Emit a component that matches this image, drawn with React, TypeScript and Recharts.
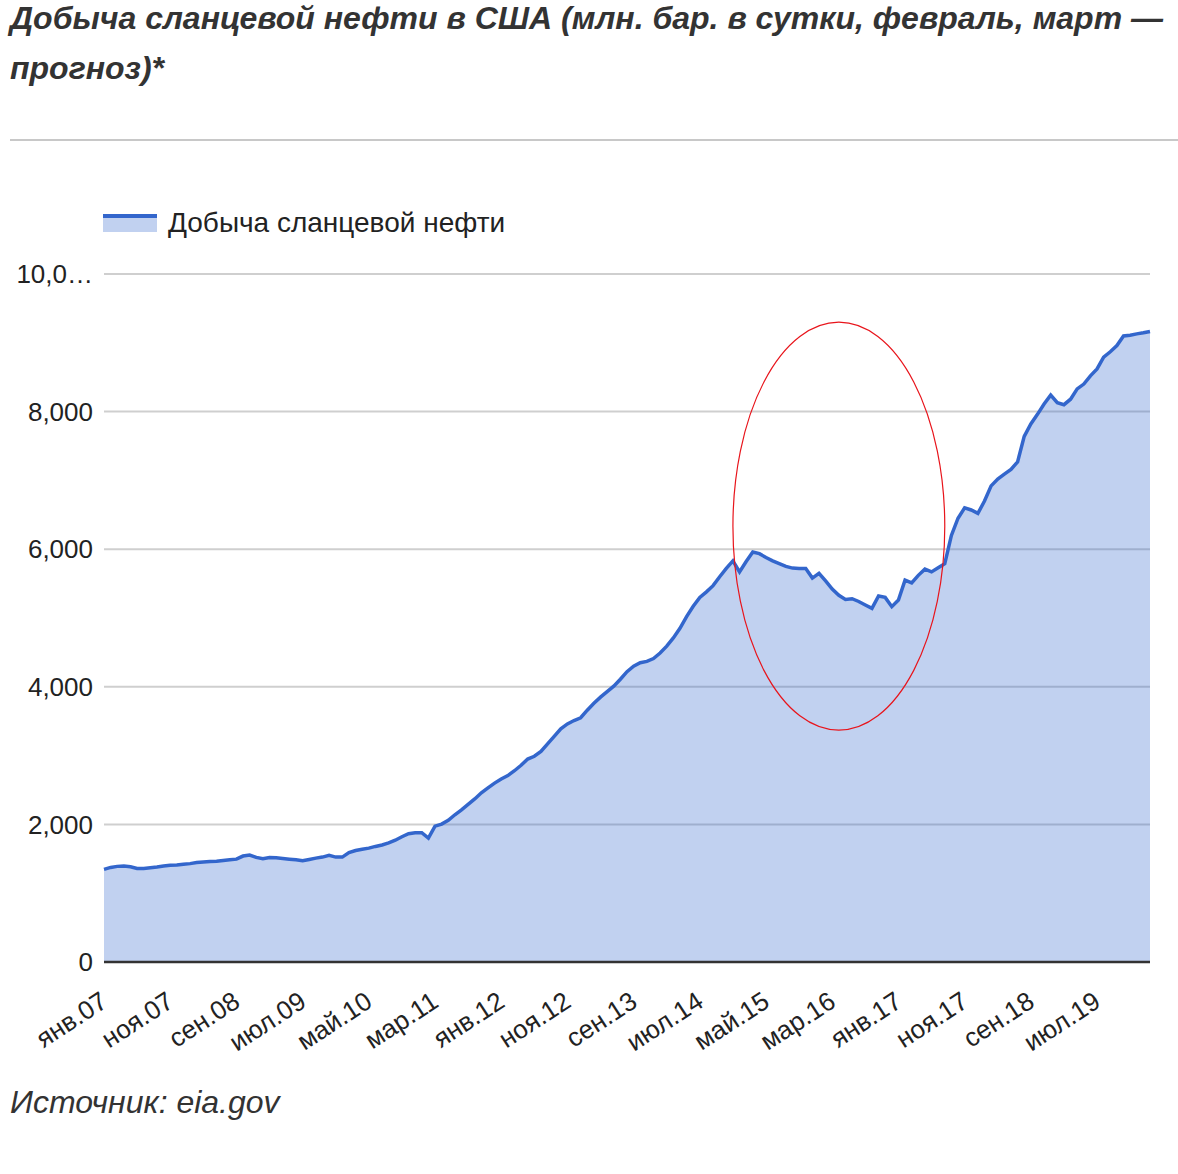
import { Area, AreaChart, CartesianGrid, ReferenceArea, XAxis, YAxis } from 'recharts';

const monthNames = ['янв', 'фев', 'мар', 'апр', 'май', 'июн', 'июл', 'авг', 'сен', 'окт', 'ноя', 'дек'];
const startYear = 2007;

// тыс. баррелей в сутки, янв.07 — мар.20 (фев, мар 2020 — прогноз)
const shaleOutput = [
  1347, 1375, 1390, 1395, 1385, 1360, 1360, 1370, 1380, 1395, 1405, 1410, // 2007
  1420, 1430, 1445, 1455, 1460, 1465, 1475, 1485, 1495, 1540, 1555, 1520, // 2008
  1500, 1520, 1515, 1505, 1495, 1485, 1472, 1490, 1510, 1525, 1550, 1525, // 2009
  1525, 1590, 1620, 1640, 1655, 1680, 1700, 1730, 1770, 1820, 1865, 1878, // 2010
  1880, 1800, 1975, 2005, 2060, 2140, 2210, 2290, 2370, 2460, 2530, 2600, // 2011
  2660, 2710, 2780, 2860, 2950, 2990, 3060, 3170, 3280, 3390, 3460, 3510, // 2012
  3550, 3660, 3760, 3850, 3930, 4010, 4110, 4220, 4300, 4350, 4370, 4410, // 2013
  4490, 4590, 4710, 4850, 5020, 5170, 5300, 5380, 5470, 5600, 5720, 5830, // 2014
  5670, 5820, 5960, 5935, 5880, 5830, 5790, 5750, 5725, 5720, 5720, 5580, // 2015
  5650, 5540, 5420, 5330, 5270, 5280, 5240, 5190, 5140, 5320, 5300, 5165, // 2016
  5260, 5550, 5510, 5620, 5710, 5670, 5730, 5790, 6200, 6450, 6600, 6570, // 2017
  6520, 6700, 6920, 7020, 7090, 7160, 7270, 7640, 7820, 7960, 8110, 8240, // 2018
  8130, 8100, 8180, 8330, 8400, 8520, 8620, 8790, 8870, 8960, 9100, 9110, // 2019
  9130, 9145, 9165, // 2020
];

const yTicks = [0, 2000, 4000, 6000, 8000, 10000];

// красный овал: спад 2015–2017
const highlightMonths = ['дек.14', 'авг.17'];
const highlightValues = [3370, 9300];

const monthLabel = (i: number) =>
  `${monthNames[i % 12]}.${String((startYear + Math.floor(i / 12)) % 100).padStart(2, '0')}`;

const data = shaleOutput.map((value, i) => ({ month: monthLabel(i), value }));

const FONT = 'Arial, "Liberation Sans", sans-serif';
const BLUE = '#3366cc';

function AngledTick({ x, y, payload }: any) {
  return (
    <g transform={`translate(${x - 5},${y})`}>
      <text textAnchor="end" transform="rotate(-33)" dy="0.72em" fill="#222" fontSize={26} fontFamily={FONT}>
        {payload.value}
      </text>
    </g>
  );
}

function Ellipse({ x, y, width, height }: any) {
  return (
    <ellipse
      cx={x + width / 2}
      cy={y + height / 2}
      rx={width / 2}
      ry={height / 2}
      fill="none"
      stroke="#e8141b"
      strokeWidth={1.2}
    />
  );
}

export default function App() {
  return (
    <div style={{ position: 'relative', width: 1178, height: 1174, fontFamily: FONT, background: '#fff' }}>
      <style>{'body{margin:0}'}</style>
      <div
        style={{
          position: 'absolute',
          top: -7,
          left: 10,
          fontSize: 32,
          lineHeight: '50px',
          fontWeight: 'bold',
          fontStyle: 'italic',
          color: '#333',
          whiteSpace: 'nowrap',
        }}
      >
        <div>Добыча сланцевой нефти в США (млн. бар. в сутки, февраль, март —</div>
        <div>прогноз)*</div>
      </div>
      <div style={{ position: 'absolute', top: 139, left: 10, right: 0, height: 2, background: '#c8c8c8' }} />

      <div style={{ position: 'absolute', top: 207, left: 103, display: 'flex', alignItems: 'center' }}>
        <div style={{ width: 54, height: 18, marginRight: 11 }}>
          <div style={{ height: 4, background: BLUE }} />
          <div style={{ height: 14, background: BLUE, opacity: 0.3 }} />
        </div>
        <span style={{ fontSize: 28, color: '#222' }}>Добыча сланцевой нефти</span>
      </div>

      <div style={{ position: 'absolute', top: 0, left: 0 }}>
        <AreaChart width={1178} height={1174} data={data} margin={{ top: 274, right: 28, bottom: 152, left: 4 }}>
          <CartesianGrid vertical={false} stroke="#cfcfcf" strokeWidth={2} />
          <XAxis
            dataKey="month"
            interval={9}
            tick={<AngledTick />}
            tickLine={false}
            tickSize={0}
            tickMargin={28}
            height={60}
            axisLine={{ stroke: '#333', strokeWidth: 2.5 }}
          />
          <YAxis
            domain={[0, 10000]}
            ticks={yTicks}
            width={100}
            axisLine={false}
            tickLine={false}
            tickMargin={5}
            tick={{ fill: '#222', fontSize: 26, fontFamily: FONT }}
            tickFormatter={(v: number) => (v >= 10000 ? '10,0…' : v.toLocaleString('en-US'))}
          />
          <Area
            type="linear"
            dataKey="value"
            stroke={BLUE}
            strokeWidth={3.5}
            fill={BLUE}
            fillOpacity={0.3}
            isAnimationActive={false}
          />
          <ReferenceArea
            x1={highlightMonths[0]}
            x2={highlightMonths[1]}
            y1={highlightValues[0]}
            y2={highlightValues[1]}
            ifOverflow="visible"
            shape={<Ellipse />}
          />
        </AreaChart>
      </div>

      <div
        style={{ position: 'absolute', top: 1084, left: 10, fontSize: 32, fontStyle: 'italic', color: '#333' }}
      >
        Источник: eia.gov
      </div>
    </div>
  );
}
